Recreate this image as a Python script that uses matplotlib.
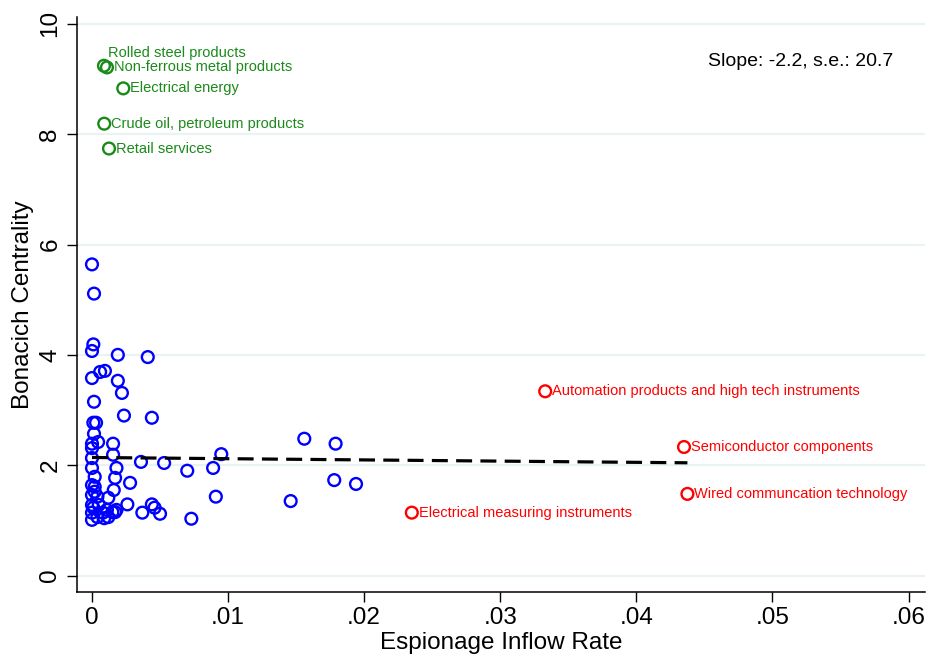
import matplotlib
matplotlib.use('Agg')
import matplotlib.pyplot as plt
import numpy as np

plt.rcParams['font.family'] = ['Liberation Sans', 'DejaVu Sans']

# unlabeled industries (blue)
blue_x = [0, 0.00015, 0.0001, 0, 0.0019, 0.0041, 0.0006, 0.00095, 0, 0.0019,
          0.0022, 0.00015, 0.00235, 0.0044, 0.0001, 0.0003, 0.00015, 0, 0.00045, 0.00155,
          0, 0.0156, 0.0179, 0.0095, 0.0036, 0.0053, 0.007, 0.0089, 0.00155, 0,
          0, 0.0018, 0.0002, 0.0017, 0.0178, 0.0194, 0.0028, 0, 0.0016, 0.0002,
          0, 0.0004, 0.0091, 0.0146, 0.0012, 0.0026, 0.0044, 0.0046, 0.0037, 0.005,
          0.0073, 0.0001, 0, 0.0011, 0.0015, 0.0018, 0.0004, 0.0008, 0.0012, 0,
          0.0002, 0, 0.0005, 0.0017, 0.0009]
blue_y = [5.64, 5.11, 4.19, 4.07, 4.00, 3.96, 3.69, 3.71, 3.58, 3.53,
          3.31, 3.15, 2.90, 2.86, 2.77, 2.77, 2.57, 2.39, 2.42, 2.39,
          2.31, 2.48, 2.39, 2.20, 2.06, 2.04, 1.90, 1.95, 2.19, 2.13,
          1.95, 1.95, 1.79, 1.77, 1.73, 1.66, 1.68, 1.64, 1.55, 1.52,
          1.46, 1.43, 1.43, 1.35, 1.41, 1.29, 1.29, 1.23, 1.14, 1.12,
          1.03, 1.23, 1.01, 1.19, 1.15, 1.19, 1.06, 1.14, 1.06, 1.14,
          1.61, 1.28, 1.28, 1.15, 1.04]

# most central industries (green)
green_names = ['Rolled steel products', 'Non-ferrous metal products', 'Electrical energy',
               'Crude oil, petroleum products', 'Retail services']
green_x = [0.00088, 0.0011, 0.0023, 0.0009, 0.00125]
green_y = [9.24, 9.21, 8.83, 8.19, 7.74]

# highest espionage inflow (red)
red_names = ['Automation products and high tech instruments', 'Semiconductor components',
             'Wired communcation technology', 'Electrical measuring instruments']
red_x = [0.0333, 0.0435, 0.04375, 0.0235]
red_y = [3.34, 2.33, 1.48, 1.14]

slope = -2.2
intercept = 2.14
se = 20.7

fig = plt.figure(figsize=(9.29, 6.62), dpi=100)
ax = fig.add_axes([0.0826, 0.106, 0.913, 0.868])

ax.set_xlim(-0.00112, 0.0612)
ax.set_ylim(-0.295, 10.12)

for y in range(0, 11, 2):
    ax.axhline(y, color='#eaf2f3', lw=1.6, zorder=0)

mk = dict(s=72, facecolors='none', linewidths=1.7, zorder=3)
ax.scatter(blue_x, blue_y, edgecolors='#0000ff', **mk)
ax.scatter(green_x, green_y, edgecolors='#1a8a1a', **mk)
ax.scatter(red_x, red_y, edgecolors='#ff0000', **mk)

for i, name in enumerate(green_names):
    off = (3, 9) if i == 0 else (5, 0)
    ax.annotate(name, (green_x[i], green_y[i]), xytext=off, textcoords='offset points',
                va='center', ha='left', fontsize=10.5, color='#1a8a1a')
for i, name in enumerate(red_names):
    ax.annotate(name, (red_x[i], red_y[i]), xytext=(5, 0), textcoords='offset points',
                va='center', ha='left', fontsize=10.5, color='#ff0000')

all_x = blue_x + green_x + red_x
fx = np.array([min(all_x), max(all_x)])
ax.plot(fx, intercept + slope * fx, color='black', lw=2.3, ls=(0, (5, 2.6)), zorder=4)

ax.text(0.0589, 9.31, f'Slope: {slope}, s.e.: {se}', ha='right', va='center', fontsize=14)

ax.set_xticks([0, 0.01, 0.02, 0.03, 0.04, 0.05, 0.06])
ax.set_xticklabels(['0', '.01', '.02', '.03', '.04', '.05', '.06'])
ax.set_yticks(range(0, 11, 2))
ax.set_yticklabels([str(v) for v in range(0, 11, 2)], rotation=90, va='center')
ax.tick_params(axis='both', direction='out', length=7, width=1, labelsize=17.5, pad=4)

ax.set_xlabel('Espionage Inflow Rate', fontsize=17.5, labelpad=2)
ax.set_ylabel('Bonacich Centrality', fontsize=17.5, labelpad=4)

for s in ['top', 'right']:
    ax.spines[s].set_visible(False)
for s in ['left', 'bottom']:
    ax.spines[s].set_linewidth(1.1)

fig.savefig('out.png', dpi=100)
